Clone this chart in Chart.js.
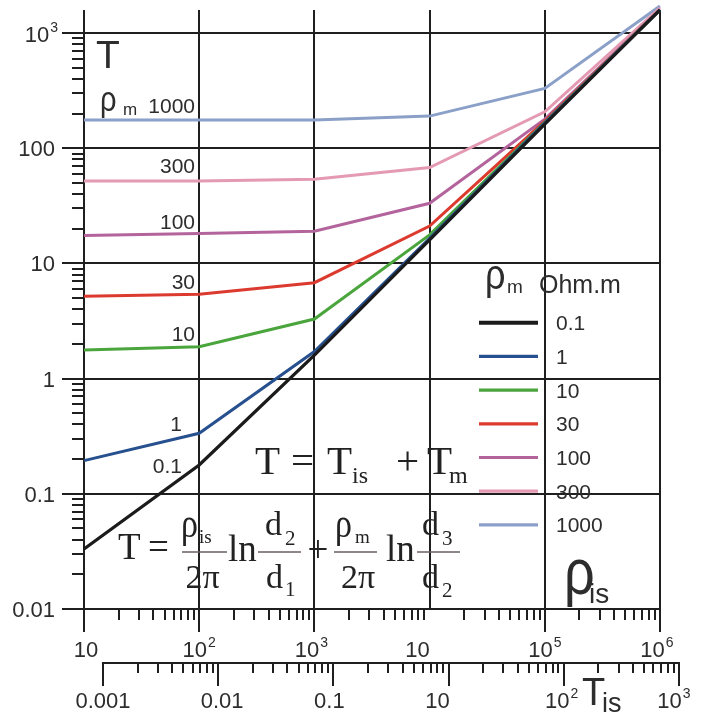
<!DOCTYPE html>
<html>
<head>
<meta charset="utf-8">
<script src="https://cdn.jsdelivr.net/npm/chart.js@4.4.0/dist/chart.umd.min.js"></script>
<style>
  html, body { margin: 0; padding: 0; background: #fff; }
</style>
</head>
<body>
<canvas id="chart" width="702" height="715"></canvas>
<script>
"use strict";
// rho_is (Ohm.m) where each curve was sampled
const rhoIs = [10, 100, 1000, 10000, 100000, 1000000];
// rho_m values of the curves
const rhoM = ['0.1', '1', '10', '30', '100', '300', '1000'];
// T, one list per rho_m
const tRho01 = [0.0332, 0.178, 1.60, 16.0, 162, 1590];
const tRho1 = [0.194, 0.335, 1.72, 16.5, 166, 1590];
const tRho10 = [1.77, 1.89, 3.29, 17.7, 168, 1590];
const tRho30 = [5.2, 5.4, 6.8, 21.1, 172, 1590];
const tRho100 = [17.5, 18.2, 19.0, 33.3, 179, 1600];
const tRho300 = [51.9, 52.0, 53.7, 68.0, 207, 1650];
const tRho1000 = [176, 176, 176, 190, 331, 1715];
const lineColors = ['#1b1b1b', '#27508f', '#4aa63c', '#dc3a2e', '#b4649c', '#e39ab2', '#8ba0c8'];

// axis ticks and labels [main, superscript]
const xTicks = [10, 100, 1000, 10000, 100000, 1000000];
const xTickLabels = [['10', ''], ['10', '2'], ['10', '3'], ['10', ''], ['10', '5'], ['10', '6']];
const yTicks = [0.01, 0.1, 1, 10, 100, 1000];
const yTickLabels = [['0.01', ''], ['0.1', ''], ['1', ''], ['10', ''], ['100', ''], ['10', '3']];
const tisTicks = [0.001, 0.01, 0.1, 1, 10, 100];
const tisTickLabels = [['0.001', ''], ['0.01', ''], ['0.1', ''], ['10', ''], ['10', '2'], ['10', '3']];
const tisToRho = 14600; // T_is scale under the rho_is axis

const series = [tRho01, tRho1, tRho10, tRho30, tRho100, tRho300, tRho1000];
const gridColor = '#1f1f1f';
const ink = '#2d2d2d';
const sans = '"Liberation Sans", Arial, sans-serif';
const serif = '"Liberation Serif", "Times New Roman", serif';

let datasets = series.map((vals, i) => ({
    label: rhoM[i],
    data: rhoIs.map((x, j) => ({ x: x, y: vals[j] })),
    borderColor: lineColors[i],
    backgroundColor: lineColors[i],
    borderWidth: i === 0 ? 3.3 : 3,
    pointRadius: 0,
    tension: 0,
    clip: false
}));

function put(ctx, s, x, y, size, family, align) {
    ctx.font = size + 'px ' + family;
    ctx.textAlign = align || 'left';
    ctx.fillText(s, x, y);
}

// a tall rho, stretched a bit like the one in the picture
function rho(ctx, x, y, size, family) {
    ctx.save();
    ctx.translate(x, y);
    ctx.scale(1, 1.2);
    put(ctx, '\u03C1', 0, 0, size, family);
    ctx.restore();
}

// text with a superscript, aligned as a group
function supLabel(ctx, main, sup, x, y, size, supSize, supRise, align) {
    ctx.font = size + 'px ' + sans;
    let w1 = ctx.measureText(main).width;
    ctx.font = supSize + 'px ' + sans;
    let w2 = sup ? ctx.measureText(sup).width + 1 : 0;
    let left = align === 'right' ? x - w1 - w2 : align === 'center' ? x - (w1 + w2) / 2 : x;
    put(ctx, main, left, y, size, sans);
    if (sup) put(ctx, sup, left + w1 + 1, y - supRise, supSize, sans);
}

function seg(ctx, x1, y1, x2, y2) {
    ctx.beginPath();
    ctx.moveTo(x1, y1);
    ctx.lineTo(x2, y2);
    ctx.stroke();
}

const overlay = {
    id: 'overlay',
    afterDraw(chart) {
        let ctx = chart.ctx;
        let xs = chart.scales.x, ys = chart.scales.y;
        let area = chart.chartArea;
        ctx.save();
        ctx.strokeStyle = gridColor;
        ctx.lineWidth = 2;

        // minor ticks of the rho_is axis
        for (let d of xTicks.slice(0, -1)) {
            for (let m = 2; m <= 9; m++) {
                let px = Math.round(xs.getPixelForValue(m * d));
                seg(ctx, px, area.bottom, px, area.bottom + 11);
            }
        }
        // minor ticks of the T axis
        for (let d of yTicks.slice(0, -1)) {
            for (let m = 2; m <= 9; m++) {
                let py = Math.round(ys.getPixelForValue(m * d));
                seg(ctx, area.left - 12, py, area.left, py);
            }
        }

        // second axis: T_is
        let axisY = 663;
        let tx0 = xs.getPixelForValue(tisTicks[0] * tisToRho);
        let tx1 = xs.getPixelForValue(tisTicks[tisTicks.length - 1] * tisToRho);
        seg(ctx, tx0 - 1, axisY, tx1 + 1, axisY);
        tisTicks.forEach(t => {
            let px = Math.round(xs.getPixelForValue(t * tisToRho));
            seg(ctx, px, axisY, px, axisY + 23);
        });
        for (let d of tisTicks.slice(0, -1)) {
            for (let m = 2; m <= 9; m++) {
                let px = Math.round(xs.getPixelForValue(m * d * tisToRho));
                seg(ctx, px, axisY, px, axisY + 10);
            }
        }

        ctx.fillStyle = ink;
        // tick labels
        const xShift = [2, 0, -3, -12, 0, -3];
        xTicks.forEach((v, i) => {
            let px = xs.getPixelForValue(v) + xShift[i];
            supLabel(ctx, xTickLabels[i][0], xTickLabels[i][1], px, 657, 22, 14, 10, 'center');
        });
        yTicks.forEach((v, i) => {
            let py = ys.getPixelForValue(v);
            let sup = yTickLabels[i][1];
            supLabel(ctx, yTickLabels[i][0], sup, sup ? 58 : 55, py + (sup ? 9 : 8), 22, 14, 10, 'right');
        });
        const tisShift = [0, 4, -4, -11, -2, -5];
        tisTicks.forEach((t, i) => {
            let px = xs.getPixelForValue(t * tisToRho) + tisShift[i];
            supLabel(ctx, tisTickLabels[i][0], tisTickLabels[i][1], px, 708, 22, 14, 10, 'center');
        });

        // axis titles
        put(ctx, 'T', 96, 68, 39, sans);
        rho(ctx, 564, 594, 54, sans);
        put(ctx, 'is', 589, 603, 28, sans);
        put(ctx, 'T', 582, 705, 38, sans);
        put(ctx, 'is', 602, 712, 27, sans);

        // curve labels
        rho(ctx, 100, 111, 29, sans);
        put(ctx, 'm', 123, 115, 17, sans);
        put(ctx, '1000', 195, 113, 21, sans, 'right');
        put(ctx, '300', 195, 173, 21, sans, 'right');
        put(ctx, '100', 195, 229, 21, sans, 'right');
        put(ctx, '30', 195, 289, 21, sans, 'right');
        put(ctx, '10', 195, 341, 21, sans, 'right');
        put(ctx, '1', 182, 431, 21, sans, 'right');
        put(ctx, '0.1', 182, 473, 21, sans, 'right');

        // legend
        rho(ctx, 485, 289, 36, sans);
        put(ctx, 'm', 507, 293, 19, sans);
        put(ctx, 'Ohm.m', 539, 293, 25, sans);
        chart.data.datasets.forEach((ds, i) => {
            let ry = 322.7 + i * 33.7;
            ctx.strokeStyle = ds.borderColor;
            ctx.lineWidth = i === 0 ? 4 : 3.2;
            seg(ctx, 479, ry, 538, ry);
            ctx.fillStyle = ink;
            put(ctx, ds.label, 556, ry + 7.5, 21, sans);
        });

        // formulas
        ctx.fillStyle = '#222';
        put(ctx, 'T', 255, 474, 41, serif);
        put(ctx, '=', 291, 474, 41, serif);
        put(ctx, 'T', 327, 474, 41, serif);
        put(ctx, 'is', 352, 483, 24, serif);
        put(ctx, '+', 396, 474, 41, serif);
        put(ctx, 'T', 427, 474, 41, serif);
        put(ctx, 'm', 449, 483, 24, serif);

        put(ctx, 'T', 118, 559, 37, serif);
        put(ctx, '=', 148, 559, 37, serif);
        rho(ctx, 181, 537, 34, serif);
        put(ctx, 'is', 199, 543, 19, serif);
        put(ctx, '2\u03C0', 202.5, 588, 34, serif, 'center');
        put(ctx, 'ln', 228, 561, 37, serif);
        put(ctx, 'd', 265, 535, 34, serif);
        put(ctx, '2', 285, 545, 21, serif);
        put(ctx, 'd', 266, 588, 34, serif);
        put(ctx, '1', 285, 596, 21, serif);
        put(ctx, '+', 318, 562, 37, serif, 'center');
        rho(ctx, 335, 537, 34, serif);
        put(ctx, 'm', 355, 543, 19, serif);
        put(ctx, '2\u03C0', 358, 588, 34, serif, 'center');
        put(ctx, 'ln', 386, 561, 37, serif);
        put(ctx, 'd', 422, 535, 34, serif);
        put(ctx, '3', 442, 545, 21, serif);
        put(ctx, 'd', 422, 588, 34, serif);
        put(ctx, '2', 442, 597, 21, serif);
        ctx.strokeStyle = '#6a5f5f';
        ctx.lineWidth = 1.3;
        seg(ctx, 182, 552, 227, 552);
        seg(ctx, 258, 552, 301, 552);
        seg(ctx, 334, 552, 377, 552);
        seg(ctx, 417, 552, 460, 552);
        ctx.restore();
    }
};

new Chart(document.getElementById('chart'), {
    type: 'line',
    data: { datasets: datasets },
    options: {
        responsive: false,
        animation: false,
        layout: { padding: { top: 10, right: 42, left: 0, bottom: 0 } },
        plugins: { legend: { display: false }, tooltip: { enabled: false } },
        scales: {
            x: {
                type: 'logarithmic',
                min: 10,
                max: 1000000,
                afterBuildTicks: s => { s.ticks = xTicks.map(v => ({ value: v })); },
                afterFit: s => { s.height = 106; },
                ticks: { display: false },
                border: { display: false },
                grid: {
                    color: gridColor,
                    lineWidth: 2,
                    tickLength: 23,
                    tickColor: c => (c.tick && c.tick.value === 10000) ? 'rgba(0,0,0,0)' : gridColor
                }
            },
            y: {
                type: 'logarithmic',
                min: 0.01,
                max: Math.pow(10, 3.2),
                afterBuildTicks: s => { s.ticks = yTicks.map(v => ({ value: v })); },
                afterFit: s => { s.width = 84; },
                ticks: { display: false },
                border: { display: false },
                grid: { color: gridColor, lineWidth: 2, tickLength: 22, tickColor: gridColor }
            }
        }
    },
    plugins: [overlay]
});
</script>
</body>
</html>
